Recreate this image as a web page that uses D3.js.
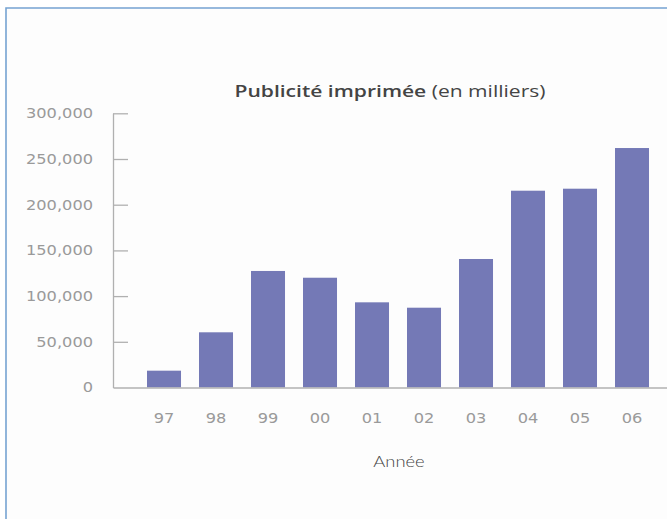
<!DOCTYPE html>
<html>
<head>
<meta charset="utf-8">
<script src="https://cdn.jsdelivr.net/npm/d3@7"></script>
<style>
  html, body { margin: 0; padding: 0; background: #ffffff; overflow: hidden; }
  svg { display: block; overflow: hidden; }
</style>
</head>
<body>
<svg id="chart" width="667" height="519"></svg>
<script>
// Print advertising, in thousands, by year
const years = ["97", "98", "99", "00", "01", "02", "03", "04", "05", "06"];
const values = [18400, 60400, 127500, 120100, 93200, 87300, 140600, 215300, 217500, 262000];
const yTicks = [0, 50000, 100000, 150000, 200000, 250000, 300000];
const titleBold = "Publicité imprimée";
const titleRest = " (en milliers)";
const xTitle = "Année";

const W = 667, H = 519;
const svg = d3.select("#chart");

// panel background and frame (top and left edges are visible)
svg.append("rect")
  .attr("x", 6).attr("y", 8)
  .attr("width", W - 6).attr("height", H - 8)
  .attr("fill", "#fdfdfd");
svg.append("path")
  .attr("d", `M6,${H}V8H${W}`)
  .attr("fill", "none")
  .attr("stroke", "#76a3d2")
  .attr("stroke-width", 1.6);

const plotLeft = 113, plotRight = W, plotBottom = 387.5, plotTop = 113.3;

const x = d3.scaleBand()
  .domain(years)
  .range([plotLeft, plotRight])
  .paddingInner(0.346)
  .paddingOuter(0.5)
  .align(0.654);

const y = d3.scaleLinear()
  .domain([0, 300000])
  .range([plotBottom, plotTop]);

// bars
svg.append("g")
  .selectAll("rect")
  .data(values)
  .join("rect")
  .attr("x", (d, i) => x(years[i]))
  .attr("y", d => y(d))
  .attr("width", x.bandwidth())
  .attr("height", d => plotBottom - y(d))
  .attr("fill", "#7479b6");

const axisColor = "#b0b0b0";
const labelStyle = sel => sel
  .attr("fill", "#9a9a9a")
  .style("font-family", "'DejaVu Sans', sans-serif")
  .style("font-size", "13.5px");

// y axis, ticks pointing inward
const yAxis = svg.append("g")
  .attr("transform", `translate(${plotLeft},0)`)
  .call(d3.axisLeft(y)
    .tickValues(yTicks)
    .tickFormat(d3.format(","))
    .tickSizeInner(-15)
    .tickSizeOuter(0)
    .tickPadding(20));
yAxis.select(".domain").attr("stroke", axisColor).attr("stroke-width", 1.3);
yAxis.selectAll(".tick line").attr("stroke", axisColor).attr("stroke-width", 1.3)
  .filter(d => d === 0).remove();
yAxis.selectAll(".tick text")
  .call(labelStyle)
  .attr("x", 0)
  .attr("transform", "translate(-20,0) scale(1.2,1)");

// x axis
const xAxis = svg.append("g")
  .attr("transform", `translate(0,${plotBottom})`)
  .call(d3.axisBottom(x).tickSize(0).tickSizeOuter(0).tickPadding(26));
xAxis.select(".domain").attr("stroke", axisColor).attr("stroke-width", 1.3);
xAxis.selectAll(".tick text")
  .call(labelStyle)
  .attr("transform", "scale(1.2,1)");

// axis title
svg.append("text")
  .attr("transform", "translate(399,467) scale(1.15,1)")
  .attr("text-anchor", "middle")
  .attr("fill", "#444")
  .style("font-family", "Lato, sans-serif")
  .style("font-weight", 300)
  .style("font-size", "16px")
  .text(xTitle);

// chart title
const title = svg.append("text")
  .attr("transform", "translate(390,97) scale(1.24,1)")
  .attr("text-anchor", "middle")
  .attr("fill", "#444")
  .style("font-family", "'Open Sans', sans-serif")
  .style("font-size", "17px");
title.append("tspan").style("font-weight", 600).text(titleBold);
title.append("tspan").style("font-weight", 400).text(titleRest);
</script>
</body>
</html>
